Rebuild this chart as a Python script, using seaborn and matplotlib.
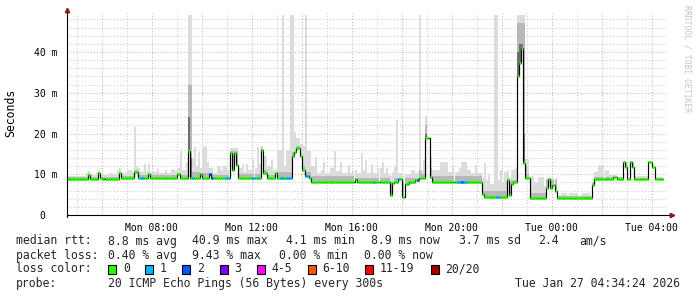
import numpy as np
import pandas as pd
import matplotlib
matplotlib.use("Agg")
import matplotlib.pyplot as plt
import seaborn as sns
from matplotlib.patches import Rectangle

# ---------------- data ----------------
t_start_hour = 4 + 37 / 60.0      # Mon 04:37 (left edge of the graph)
step_min = 5                       # one sample every 300 s
n_samples = 286

# median rtt (ms), run-length: sample index where a value starts, and the value
med_start = [0, 10, 11, 15, 16, 17, 25, 26, 32, 34,
             39, 40, 53, 54, 58, 59, 64, 65, 68, 69,
             70, 78, 79, 80, 81, 82, 93, 94, 96, 100,
             101, 108, 109, 110, 112, 113, 114, 116, 117, 138,
             139, 155, 156, 157, 159, 161, 162, 164, 167, 169,
             172, 174, 175, 199, 200, 211, 212, 213, 214, 216,
             217, 218, 219, 220, 222, 230, 231, 232, 233, 234,
             235, 252, 253, 262, 264, 267, 268, 269, 270, 271,
             272, 279, 281, 282]
med_val = [8.85, 9.8, 8.9, 10.2, 9.0, 8.8, 10.2, 9.0, 10.6, 9.0,
           10.0, 9.0, 10.0, 9.1, 15.6, 9.0, 10.0, 9.0, 10.0, 9.2,
           9.0, 15.2, 11.0, 15.2, 12.3, 9.1, 16.0, 10.2, 9.0, 10.2,
           9.0, 14.5, 15.5, 16.5, 14.5, 11.0, 9.5, 9.0, 8.1, 8.8,
           8.2, 4.9, 7.9, 8.2, 8.8, 4.5, 7.5, 8.0, 8.5, 9.0,
           19.0, 9.4, 8.2, 5.2, 4.5, 8.6, 4.9, 7.5, 8.2, 34.0,
           37.3, 40.9, 12.8, 9.0, 4.1, 6.7, 8.8, 6.6, 7.4, 6.0,
           4.1, 7.4, 8.85, 9.4, 8.85, 12.9, 11.7, 8.85, 12.9, 11.7,
           8.85, 12.9, 11.7, 8.85]

# smoke: highest ping (light grey), run-length
hi_start = [0, 9, 10, 11, 14, 15, 16, 20, 22, 24, 25, 26, 29, 31, 32, 33, 34, 35, 37, 38,
            39, 40, 43, 44, 47, 48, 50, 52, 53, 54, 55, 57, 58, 60, 61, 62, 63, 64, 65, 66,
            67, 68, 70, 72, 74, 75, 77, 78, 82, 84, 85, 86, 87, 89, 90, 91, 92, 93, 94, 96,
            98, 99, 101, 103, 104, 105, 107, 109, 110, 112, 113, 114, 115, 117, 119, 120, 122, 123, 124, 126,
            128, 129, 131, 132, 135, 136, 137, 139, 141, 142, 143, 144, 146, 147, 149, 151, 152, 153, 154, 155,
            156, 157, 158, 159, 161, 162, 165, 167, 169, 170, 171, 172, 173, 175, 179, 183, 185, 186, 188, 189,
            192, 194, 196, 197, 199, 200, 201, 202, 203, 205, 207, 208, 209, 210, 211, 212, 213, 215, 216, 220,
            221, 222, 224, 226, 229, 230, 235, 237, 240, 241, 245, 247, 251, 252, 253, 255, 258, 260, 262, 264,
            267, 268, 269, 270, 271, 272, 279, 280, 282]
hi_val = [9.5, 10.2, 10.8, 9.8, 10.6, 11.0, 9.8, 10.4, 10.0, 11.0, 11.5, 10.4, 11.0, 10.6, 21.7, 12.0, 11.5, 10.6, 12.4, 10.8,
          12.4, 10.6, 11.4, 10.4, 11.0, 10.2, 11.2, 10.8, 11.5, 15.6, 11.0, 13.0, 49.0, 14.0, 16.8, 12.0, 15.5, 11.5, 16.8, 17.0,
          13.0, 11.5, 10.4, 12.0, 11.0, 12.0, 11.0, 16.4, 11.5, 12.5, 10.6, 12.5, 11.0, 13.5, 11.5, 16.8, 12.5, 17.0, 14.5, 12.0,
          13.5, 11.0, 16.0, 49.0, 12.0, 16.0, 49.0, 20.3, 19.0, 17.5, 17.0, 49.0, 15.6, 12.0, 14.3, 10.4, 11.0, 12.9, 10.4, 11.5,
          15.6, 10.8, 12.9, 10.4, 12.3, 10.2, 11.0, 10.4, 15.2, 11.0, 13.6, 10.4, 12.5, 10.4, 11.5, 13.1, 10.4, 11.5, 10.0, 9.5,
          10.6, 12.3, 23.2, 10.4, 9.5, 10.0, 11.0, 10.4, 49.0, 11.0, 13.6, 24.2, 14.3, 11.0, 13.0, 10.6, 12.3, 10.6, 11.5, 13.1,
          11.0, 10.4, 12.3, 10.2, 9.0, 12.8, 8.5, 9.7, 7.5, 49.0, 8.5, 11.0, 8.0, 10.5, 11.0, 9.0, 11.0, 11.5, 49.0, 14.0,
          13.6, 9.5, 8.0, 9.4, 7.0, 9.0, 5.0, 5.5, 5.0, 5.5, 4.8, 5.5, 4.6, 8.0, 10.5, 12.3, 11.0, 9.8, 10.0, 9.4,
          13.2, 12.2, 9.4, 13.2, 12.2, 9.6, 13.2, 12.2, 9.4]

# smoke: denser pings (mid grey), run-length
mid_start = [0, 10, 11, 15, 16, 25, 26, 32, 34, 53, 54, 58, 60, 64, 70, 78, 82, 93, 94, 96,
             101, 108, 110, 112, 113, 114, 117, 138, 139, 155, 157, 161, 162, 169, 170, 172, 173, 175, 199, 211,
             212, 213, 216, 220, 221, 222, 230, 235, 252, 253, 267, 269, 270, 272, 279, 281, 282]
mid_val = [9.4, 10.3, 9.4, 10.6, 9.4, 10.6, 9.5, 11.0, 9.7, 10.4, 9.7, 32.0, 10.6, 10.4, 9.8, 15.8, 10.0, 16.4, 11.0, 9.9,
           10.5, 15.5, 17.0, 15.0, 12.0, 10.5, 9.5, 9.2, 9.1, 8.0, 9.1, 8.0, 9.1, 11.0, 10.0, 22.0, 11.5, 9.5, 6.0, 9.0,
           8.0, 8.6, 47.0, 12.0, 10.0, 5.5, 8.6, 4.6, 7.8, 9.4, 12.9, 9.2, 12.9, 9.2, 12.9, 11.7, 9.2]

# smoke: densest pings (dark grey), sparse
dark_idx = [58, 59, 172, 216, 217, 218, 219]
dark_val = [24.0, 14.0, 20.0, 40.0, 42.0, 42.0, 20.0]

# samples with packet loss
loss1_idx = [35, 36, 60, 76, 77, 89, 91, 102, 103, 105, 106, 107, 114, 115,
             147, 159, 187, 188, 190, 191, 206, 207]
loss2_idx = [68, 69, 168, 189]

loss_names = ["0", "1", "2", "3", "4-5", "6-10", "11-19", "20/20"]
loss_colors = ["#26ff00", "#00b8ff", "#0059ff", "#7e00ff", "#ff00ff",
               "#ff5500", "#ff0000", "#a10000"]

xtick_hours = [8, 12, 16, 20, 24, 28]
xtick_labels = ["Mon 08:00", "Mon 12:00", "Mon 16:00", "Mon 20:00",
                "Tue 00:00", "Tue 04:00"]
ytick_vals = [0, 10, 20, 30, 40]
ytick_labels = ["0  ", "10 m", "20 m", "30 m", "40 m"]

legend_rows = [
    [(16, "median rtt:"), (107.6, "8.8 ms avg"), (192, "40.9 ms max"),
     (285.8, "4.1 ms min"), (371, "8.9 ms now"), (458.7, "3.7 ms sd"),
     (537.8, "2.4"), (579, "am/s")],
    [(16, "packet loss:"), (107.6, "0.40 % avg"), (192, "9.43 % max"),
     (279, "0.00 % min"), (364, "0.00 % now")],
]
probe_text = "20 ICMP Echo Pings (56 Bytes) every 300s"
stamp_text = "Tue Jan 27 04:34:24 2026"

# ---------------- helpers ----------------
def expand(starts, vals, n):
    arr = np.empty(n)
    ends = list(starts[1:]) + [n]
    for s, e, v in zip(starts, ends, vals):
        arr[s:e] = v
    return arr

med = expand(med_start, med_val, n_samples)
hi = np.maximum(expand(hi_start, hi_val, n_samples), med)
mid = np.maximum(expand(mid_start, mid_val, n_samples), med)
step_h = step_min / 60.0
t = t_start_hour + np.arange(n_samples) * step_h

sample_colors = [loss_colors[0]] * n_samples
for i in loss1_idx:
    sample_colors[i] = loss_colors[1]
for i in loss2_idx:
    sample_colors[i] = loss_colors[2]

# ---------------- figure ----------------
sns.set_style("white")
plt.rcParams["font.family"] = ["DejaVu Sans Mono"]

W, H = 697, 297
fig = plt.figure(figsize=(W / 100, H / 100), dpi=100)
fig.patch.set_facecolor("white")
ax = fig.add_axes([67 / W, (H - 215) / H, 600 / W, (215 - 11.25) / H])
ax.set_facecolor("white")
ax.set_xlim(t_start_hour, t_start_hour + 24)
ax.set_ylim(0, 50)

# smoke
ax.bar(t, hi - med, bottom=med, width=step_h, align="edge",
       color="#dcdcdc", linewidth=0, zorder=2)
ax.bar(t, mid - med, bottom=med, width=step_h, align="edge",
       color="#b8b8b8", linewidth=0, zorder=2.5)
ax.bar(t[dark_idx], np.array(dark_val) - med[dark_idx], bottom=med[dark_idx],
       width=step_h, align="edge", color="#6e6e6e", linewidth=0, zorder=2.7)

# median line (black stair) and loss-coloured segments
df = pd.DataFrame({"t": np.append(t, t[-1] + step_h),
                   "v": np.append(med, med[-1])})
sns.lineplot(data=df, x="t", y="v", drawstyle="steps-post", color="black",
             linewidth=0.85, estimator=None, sort=False, ax=ax, zorder=4)
ax.hlines(med, t, t + step_h, colors=sample_colors, linewidth=2.0, zorder=5)

# grid
ax.set_xticks(np.arange(6, 29, 2))
ax.set_xticks(np.arange(5, 29, 1), minor=True)
ax.set_xticklabels([xtick_labels[xtick_hours.index(h)] if h in xtick_hours else ""
                    for h in np.arange(6, 29, 2)])
ax.set_yticks(ytick_vals)
ax.set_yticks(np.arange(2, 50, 2), minor=True)
ax.set_yticklabels(ytick_labels)
ax.set_axisbelow(True)
ax.grid(which="minor", color="#c8c8c8", linestyle=(0, (1, 2)), linewidth=0.7)
ax.grid(which="major", color="#e8a0a0", linestyle=(0, (1, 2)), linewidth=0.7)
ax.set_xlabel("")
ax.set_ylabel("")

ax.tick_params(axis="x", which="major", length=3, width=0.7, color="#a05050",
               labelsize=7, pad=2.5, labelcolor="black")
ax.tick_params(axis="x", which="minor", length=2, width=0.7, color="#808080")
ax.tick_params(axis="y", which="major", length=3, width=0.7, color="#a05050",
               labelsize=7, pad=4, labelcolor="black")
ax.tick_params(axis="y", which="minor", length=2, width=0.7, color="#808080")
for lab in ax.get_xticklabels() + ax.get_yticklabels():
    lab.set_fontfamily("DejaVu Sans Mono")

for s in ax.spines.values():
    s.set_visible(False)
# axis lines with arrow heads
ax.plot([0, 1.006], [0, 0], color="black", linewidth=0.8, transform=ax.transAxes,
        clip_on=False, zorder=6)
ax.plot([0, 0], [-0.01, 1.0], color="black", linewidth=0.8, transform=ax.transAxes,
        clip_on=False, zorder=6)
ax.plot([1.008], [0], marker=">", color="#8b1a1a", markersize=3.2,
        transform=ax.transAxes, clip_on=False, zorder=7)
ax.plot([0], [1.004], marker="^", color="#8b1a1a", markersize=3.2,
        transform=ax.transAxes, clip_on=False, zorder=7)

# vertical axis title and watermark
fig.text(11 / W, 1 - 113 / H, "Seconds", rotation=90, ha="center", va="center",
         fontsize=8.3, family="DejaVu Sans Mono", color="black")
fig.text(687.5 / W, 1 - 5 / H, "RRDTOOL / TOBI OETIKER", rotation=270,
         ha="center", va="top", fontsize=5.8, family="DejaVu Sans Mono",
         color="#c4c4c4")

# legend text
fs = 8.3
row_y = [241, 255.7, 269, 283.3]
for r, row in enumerate(legend_rows):
    for x, s in row:
        fig.text(x / W, 1 - row_y[r] / H, s, ha="left", va="center",
                 fontsize=fs, family="DejaVu Sans Mono")

fig.text(16 / W, 1 - row_y[2] / H, "loss color:", ha="left", va="center",
         fontsize=fs, family="DejaVu Sans Mono")
box_x = [108, 145, 182, 219.5, 256.5, 307.5, 365, 430.5]
for bx, name, col in zip(box_x, loss_names, loss_colors):
    fig.patches.append(Rectangle((bx / W, 1 - (row_y[2] + 4.5) / H), 8 / W, 9 / H,
                                 transform=fig.transFigure, facecolor=col,
                                 edgecolor="black", linewidth=0.8))
    fig.text((bx + 15) / W, 1 - row_y[2] / H, name, ha="left", va="center",
             fontsize=fs, family="DejaVu Sans Mono")

fig.text(16 / W, 1 - row_y[3] / H, "probe:", ha="left", va="center",
         fontsize=fs, family="DejaVu Sans Mono")
fig.text(107.6 / W, 1 - row_y[3] / H, probe_text, ha="left", va="center",
         fontsize=fs, family="DejaVu Sans Mono")
fig.text(680 / W, 1 - row_y[3] / H, stamp_text, ha="right", va="center",
         fontsize=fs, family="DejaVu Sans Mono")

fig.savefig("out.png", dpi=100, facecolor="white")
